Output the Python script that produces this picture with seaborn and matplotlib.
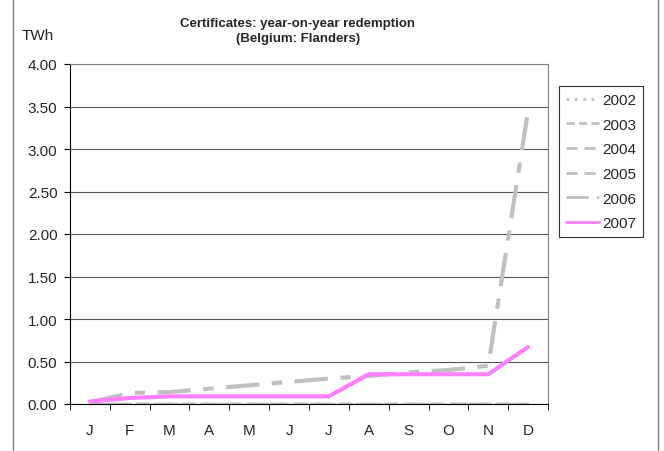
import numpy as np
import pandas as pd
import matplotlib
matplotlib.use('Agg')
import matplotlib.pyplot as plt
import seaborn as sns

sns.set_style('white')
plt.rcParams['font.family'] = ['Liberation Sans', 'DejaVu Sans']

# 数据
months = ['J', 'F', 'M', 'A', 'M', 'J', 'J', 'A', 'S', 'O', 'N', 'D']
y2002 = [0, 0, 0, 0, 0, 0, 0, 0, 0, 0, 0, 0]
y2003 = [0, 0, 0, 0, 0, 0, 0, 0, 0, 0, 0, 0]
y2004 = [0, 0, 0, 0, 0, 0, 0, 0, 0, 0, 0, 0]
y2005 = [0, 0, 0, 0, 0, 0, 0, 0, 0, 0, 0, 0]
y2006 = [0.02, 0.13, 0.14, 0.18, 0.22, 0.26, 0.30, 0.33, 0.37, 0.40, 0.45, 3.45]
y2007 = [0.03, 0.07, 0.09, 0.09, 0.09, 0.09, 0.09, 0.35, 0.35, 0.35, 0.35, 0.67]

series = {'2002': y2002, '2003': y2003, '2004': y2004,
          '2005': y2005, '2006': y2006, '2007': y2007}
styles = {
    '2002': dict(color='#C0C0C0', linestyle=(0, (1, 2)), linewidth=1.2),
    '2003': dict(color='#C0C0C0', linestyle=(0, (3, 1.5)), linewidth=2.5),
    '2004': dict(color='#C0C0C0', linestyle=(0, (4, 2.5)), linewidth=2.5),
    '2005': dict(color='#C0C0C0', linestyle=(0, (4, 2.5)), linewidth=2.5),
    '2006': dict(color='#C0C0C0', linestyle=(0, (8, 3, 2.5, 3)), linewidth=3),
    '2007': dict(color='#FF80FF', linestyle='-', linewidth=3),
}

fig = plt.figure(figsize=(6.64, 4.52), dpi=100)
ax = fig.add_axes([70 / 664, 1 - 405 / 452, 478 / 664, 340 / 452])

x = np.arange(len(months))
for name, vals in series.items():
    sns.lineplot(x=x, y=vals, ax=ax, label=name, **styles[name])

fs = 11
ax.set_xlim(-0.5, 11.5)
ax.set_ylim(0, 4)
ax.set_yticks(np.arange(0, 4.01, 0.5))
ax.set_yticklabels([f'{v:.2f}' for v in np.arange(0, 4.01, 0.5)], fontsize=fs)
ax.set_xticks(x)
ax.set_xticklabels(months, fontsize=fs)
ax.set_xticks(np.arange(-0.5, 12, 1), minor=True)
ax.tick_params(axis='x', which='major', length=0, pad=14)
ax.tick_params(axis='x', which='minor', length=4, direction='out', color='black', bottom=True)
ax.tick_params(axis='y', length=4, direction='out', color='black', left=True, pad=5)
ax.grid(axis='y', color='#555555', linewidth=0.8)
ax.set_axisbelow(True)
for side in ['top', 'right']:
    ax.spines[side].set_color('#808080')
for side in ['left', 'bottom']:
    ax.spines[side].set_color('black')

ax.get_legend().remove()
handles, labels = ax.get_legend_handles_labels()
leg = fig.legend(handles, labels, loc='upper left',
                 bbox_to_anchor=(559 / 664, 1 - 87 / 452),
                 fontsize=fs, frameon=True, fancybox=False,
                 handlelength=2.2, labelspacing=0.7, borderpad=0.45,
                 handletextpad=0.2, borderaxespad=0)
leg.get_frame().set_edgecolor('black')
leg.get_frame().set_linewidth(0.8)
for line in leg.get_lines():
    line.set_linewidth(2)

fig.text(298 / 664, 1 - 18 / 452,
         'Certificates: year-on-year redemption\n(Belgium: Flanders)',
         ha='center', va='top', fontsize=9.5, fontweight='bold', linespacing=1.3)
fig.text(22 / 664, 1 - 36 / 452, 'TWh', ha='left', va='center', fontsize=fs)

# 外框
for xb in [13 / 664, 658 / 664]:
    fig.add_artist(plt.Line2D([xb, xb], [0, 1], color='#808080', lw=1, transform=fig.transFigure))

fig.savefig('out.png', dpi=100)
